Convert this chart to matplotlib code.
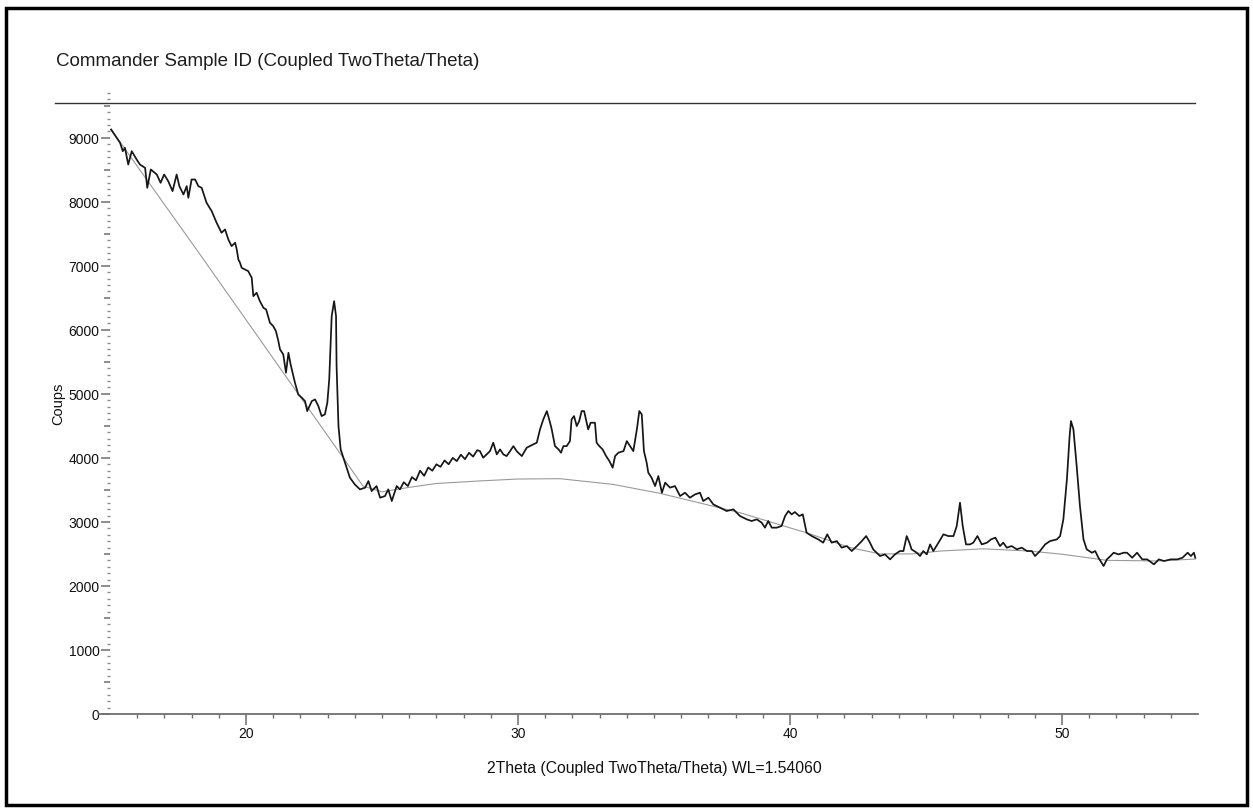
import numpy as np
import matplotlib.pyplot as plt
from matplotlib.lines import Line2D
from matplotlib.patches import Rectangle
from matplotlib.ticker import FixedLocator, FuncFormatter

plt.rcParams['font.family'] = ['Liberation Sans Narrow', 'Liberation Sans', 'DejaVu Sans']

two_theta = [15.04, 15.37, 15.47, 15.55, 15.67, 15.80, 15.98, 16.10, 16.29, 16.37,
             16.50, 16.72, 16.86, 16.99, 17.14, 17.30, 17.45, 17.55, 17.70, 17.82,
             17.88, 18.00, 18.13, 18.25, 18.37, 18.55, 18.74, 18.92, 19.10, 19.23,
             19.35, 19.47, 19.60, 19.66, 19.72, 19.78, 19.84, 19.96, 20.08, 20.21,
             20.27, 20.39, 20.51, 20.64, 20.74, 20.88, 21.00, 21.10, 21.19, 21.25,
             21.37, 21.47, 21.56, 21.64, 21.80, 21.92, 22.05, 22.17, 22.25, 22.42,
             22.54, 22.66, 22.78, 22.90, 22.99, 23.06, 23.15, 23.24, 23.31, 23.33,
             23.40, 23.48, 23.64, 23.82, 24.00, 24.19, 24.38, 24.50, 24.62, 24.80,
             24.93, 25.11, 25.23, 25.36, 25.54, 25.66, 25.80, 25.95, 26.10, 26.25,
             26.40, 26.55, 26.70, 26.85, 27.00, 27.15, 27.30, 27.45, 27.60, 27.75,
             27.90, 28.05, 28.20, 28.35, 28.50, 28.60, 28.72, 28.85, 28.97, 29.09,
             29.22, 29.34, 29.46, 29.58, 29.71, 29.83, 29.95, 30.14, 30.32, 30.56,
             30.69, 30.81, 30.93, 31.06, 31.18, 31.24, 31.36, 31.49, 31.58, 31.67,
             31.79, 31.91, 31.97, 32.06, 32.16, 32.25, 32.34, 32.43, 32.50, 32.58,
             32.67, 32.83, 32.89, 32.99, 33.11, 33.24, 33.36, 33.48, 33.57, 33.69,
             33.88, 34.00, 34.12, 34.24, 34.37, 34.46, 34.55, 34.63, 34.73, 34.79,
             34.91, 35.04, 35.16, 35.29, 35.41, 35.59, 35.77, 35.96, 36.14, 36.32,
             36.51, 36.69, 36.81, 37.00, 37.18, 37.43, 37.67, 37.92, 38.10, 38.16,
             38.41, 38.59, 38.78, 38.96, 39.08, 39.20, 39.33, 39.51, 39.69, 39.82,
             39.94, 40.06, 40.18, 40.34, 40.47, 40.61, 40.80, 41.04, 41.22, 41.37,
             41.53, 41.72, 41.90, 42.09, 42.27, 42.46, 42.64, 42.80, 42.94, 43.06,
             43.31, 43.49, 43.68, 43.86, 44.04, 44.17, 44.29, 44.39, 44.47, 44.66,
             44.78, 44.90, 45.03, 45.15, 45.27, 45.46, 45.64, 45.82, 46.01, 46.13,
             46.25, 46.35, 46.47, 46.62, 46.74, 46.89, 47.05, 47.24, 47.39, 47.55,
             47.72, 47.84, 47.97, 48.15, 48.34, 48.52, 48.71, 48.89, 49.01, 49.19,
             49.38, 49.56, 49.81, 49.93, 50.05, 50.18, 50.28, 50.33, 50.42, 50.54,
             50.66, 50.79, 50.91, 51.10, 51.22, 51.34, 51.53, 51.65, 51.78, 51.90,
             52.08, 52.27, 52.39, 52.58, 52.76, 52.95, 53.13, 53.38, 53.56, 53.75,
             54.00, 54.24, 54.43, 54.62, 54.74, 54.85, 54.90]
counts = [9129, 8921, 8790, 8843, 8582, 8790, 8660, 8582, 8530, 8218,
          8504, 8426, 8296, 8426, 8322, 8166, 8426, 8244, 8114, 8244,
          8062, 8348, 8348, 8244, 8218, 7984, 7853, 7672, 7516, 7568,
          7412, 7307, 7360, 7255, 7099, 7047, 6969, 6943, 6917, 6813,
          6526, 6579, 6448, 6344, 6318, 6110, 6058, 5980, 5824, 5694,
          5616, 5330, 5642, 5460, 5174, 4992, 4940, 4887, 4731, 4887,
          4913, 4809, 4653, 4679, 4862, 5226, 6214, 6448, 6214, 5434,
          4497, 4133, 3925, 3691, 3586, 3508, 3535, 3638, 3482, 3560,
          3378, 3404, 3508, 3326, 3560, 3508, 3620, 3560, 3700, 3650,
          3800, 3720, 3850, 3800, 3900, 3860, 3960, 3900, 4000, 3950,
          4050, 3980, 4080, 4020, 4120, 4106, 4003, 4055, 4106, 4237,
          4055, 4133, 4055, 4028, 4106, 4184, 4106, 4028, 4159, 4211,
          4237, 4445, 4601, 4731, 4549, 4445, 4184, 4133, 4081, 4184,
          4184, 4262, 4601, 4653, 4497, 4575, 4731, 4731, 4601, 4445,
          4549, 4549, 4237, 4184, 4133, 4028, 3950, 3847, 4028, 4081,
          4106, 4262, 4184, 4106, 4445, 4731, 4679, 4106, 3925, 3769,
          3691, 3560, 3716, 3456, 3613, 3535, 3560, 3404, 3456, 3378,
          3430, 3456, 3326, 3378, 3274, 3222, 3170, 3196, 3118, 3092,
          3040, 3014, 3040, 2988, 2910, 3014, 2910, 2910, 2936, 3092,
          3170, 3118, 3154, 3092, 3118, 2832, 2779, 2727, 2676, 2806,
          2676, 2701, 2598, 2623, 2545, 2623, 2701, 2779, 2676, 2571,
          2467, 2493, 2415, 2493, 2545, 2545, 2779, 2676, 2571, 2519,
          2467, 2545, 2493, 2649, 2545, 2676, 2806, 2779, 2779, 2936,
          3300, 2936, 2649, 2649, 2676, 2779, 2649, 2676, 2727, 2754,
          2623, 2676, 2598, 2623, 2571, 2598, 2545, 2545, 2467, 2545,
          2649, 2701, 2727, 2779, 3040, 3664, 4340, 4575, 4445, 3872,
          3248, 2727, 2571, 2519, 2545, 2441, 2311, 2415, 2467, 2519,
          2493, 2519, 2519, 2441, 2519, 2415, 2415, 2337, 2415, 2389,
          2415, 2415, 2441, 2519, 2467, 2519, 2441]

# fitted background
bg_theta = [15.04, 18.31, 23.70, 24.30, 25.00, 26.00, 27.00, 28.60, 30.00, 31.54,
            33.50, 35.22, 38.16, 39.74, 40.61, 42.20, 43.31, 44.50, 45.52, 47.10,
            48.82, 50.05, 51.65, 53.49, 54.90]
bg_counts = [9129, 7177, 3925, 3560, 3470, 3540, 3600, 3640, 3670, 3675,
             3586, 3446, 3144, 2940, 2830, 2600, 2500, 2500, 2545, 2580,
             2545, 2493, 2400, 2390, 2420]

W, H = 1253, 812
fig = plt.figure(figsize=(W / 100, H / 100), dpi=100)
ax = fig.add_axes([110 / W, (H - 715) / H, 1088 / W, 623 / H])

ax.plot(bg_theta, bg_counts, color='#9a9a9a', lw=0.8)
ax.plot(two_theta, counts, color='#161616', lw=1.25)

ax.set_xlim(15, 55)
ax.set_ylim(0, 9730)

for s in ['top', 'right', 'left']:
    ax.spines[s].set_visible(False)
ax.spines['bottom'].set_bounds(14.6, 55)
ax.spines['bottom'].set_color('#6e6e6e')
ax.spines['bottom'].set_linewidth(1.3)

# x ticks
ax.xaxis.set_major_locator(FixedLocator([20, 30, 40, 50]))
ax.xaxis.set_minor_locator(FixedLocator([v for v in range(16, 55) if v % 10]))
ax.tick_params(axis='x', which='major', direction='out', length=8, width=1.1,
               color='#6e6e6e', labelsize=10, pad=1, labelcolor='#111111')
ax.tick_params(axis='x', which='minor', direction='out', length=3, width=1.0,
               color='#6e6e6e')

# y ticks: long at 1000s, medium at 500s, short every 100
ax.yaxis.set_major_locator(FixedLocator(list(range(0, 9501, 500))))
ax.yaxis.set_minor_locator(FixedLocator([v for v in range(100, 9701, 100) if v % 500]))
ax.yaxis.set_major_formatter(FuncFormatter(lambda v, p: '%d' % v if v % 1000 == 0 else ''))
ax.tick_params(axis='y', which='major', direction='out', length=6.5, width=1.1,
               color='#6e6e6e', labelsize=10, pad=1, labelcolor='#111111')
ax.tick_params(axis='y', which='minor', direction='out', length=2.3, width=1.0,
               color='#8a8a8a')
for t, v in zip(ax.yaxis.get_major_ticks(), range(0, 9501, 500)):
    if v % 1000:
        t.tick1line.set_markersize(4.3)

ax.set_xlabel('2Theta (Coupled TwoTheta/Theta) WL=1.54060', fontsize=11.3,
              color='#111111', labelpad=14)
ax.set_ylabel('Coups', fontsize=10.5, color='#111111', labelpad=2)

fig.text(56 / W, 1 - 62 / H, 'Commander Sample ID (Coupled TwoTheta/Theta)',
         family=['Liberation Sans', 'DejaVu Sans'], fontsize=13.5, color='#1e1e1e',
         va='center', ha='left')
fig.add_artist(Line2D([55 / W, 1195 / W], [1 - 104 / H, 1 - 104 / H],
                      color='#333333', lw=1.0))
fig.add_artist(Rectangle((6 / W, 6 / H), 1241 / W, 797 / H, fill=False,
                         edgecolor='black', lw=2.5, transform=fig.transFigure))

fig.savefig('out.png', dpi=100)
